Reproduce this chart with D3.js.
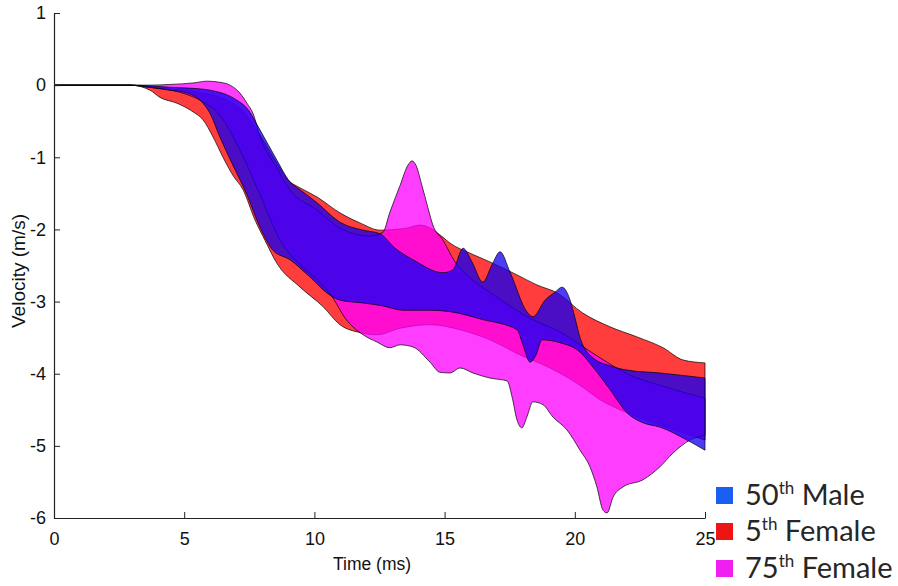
<!DOCTYPE html>
<html>
<head>
<meta charset="utf-8">
<script src="https://cdn.jsdelivr.net/npm/d3@7"></script>
<style>
  html, body { margin: 0; padding: 0; background: #fff; }
  svg { display: block; }
</style>
</head>
<body>
<svg id="chart" width="898" height="586"></svg>
<script>
// ---------------- DATA (time in ms, velocity in m/s) ----------------
const xTicks = [0, 5, 10, 15, 20, 25];
const yTicks = [1, 0, -1, -2, -3, -4, -5, -6];
const seriesNames = ["50th Male", "5th Female", "75th Female"];

// 50th Male corridor
const male50UpperT = [0, 1.0, 2.92, 3.69, 4.45, 5.11, 5.99, 7.03, 7.41, 7.91, 8.56, 9.06, 9.45, 10.10, 10.98, 11.87, 12.52, 13.10, 13.79, 14.94, 15.32, 15.71, 16.05, 16.47, 16.82, 17.13, 17.51, 18.16, 18.39, 18.86, 19.24, 19.51, 19.82, 20.01, 20.20, 20.70, 21.35, 22.00, 23.27, 25.0];
const male50UpperV = [0, 0, 0, -0.01, -0.03, -0.04, -0.07, -0.21, -0.32, -0.62, -1.04, -1.34, -1.45, -1.63, -1.90, -2.01, -2.06, -2.26, -2.42, -2.60, -2.56, -2.26, -2.45, -2.73, -2.49, -2.31, -2.59, -3.14, -3.21, -2.98, -2.87, -2.80, -2.98, -3.23, -3.50, -3.78, -3.89, -3.95, -3.99, -4.06];
const male50LowerT = [0, 1.0, 2.92, 3.69, 4.45, 5.11, 5.72, 5.99, 6.37, 6.87, 7.41, 7.91, 8.41, 9.06, 9.83, 10.48, 10.98, 11.87, 12.63, 13.40, 14.44, 15.21, 16.47, 17.78, 18.01, 18.28, 18.51, 18.74, 19.43, 20.20, 20.70, 21.35, 22.00, 22.62, 23.27, 24.31, 25.0];
const male50LowerV = [0, 0, 0, -0.03, -0.07, -0.11, -0.25, -0.39, -0.72, -1.11, -1.52, -1.97, -2.29, -2.42, -2.66, -2.88, -2.98, -3.02, -3.06, -3.12, -3.12, -3.14, -3.25, -3.39, -3.60, -3.84, -3.74, -3.53, -3.57, -3.70, -3.91, -4.22, -4.54, -4.68, -4.74, -4.92, -5.06];

// 5th Female corridor
const female5UpperT = [0, 1.0, 2.92, 3.69, 5.61, 7.14, 7.91, 8.56, 9.06, 9.33, 10.10, 10.98, 11.75, 12.52, 13.56, 14.06, 14.44, 14.94, 15.21, 15.98, 16.74, 17.78, 18.55, 19.32, 20.31, 21.35, 22.39, 23.39, 24.16, 25.0];
const female5UpperV = [0, 0, 0, -0.03, -0.10, -0.32, -0.69, -1.08, -1.34, -1.40, -1.55, -1.77, -1.91, -2.01, -1.98, -1.94, -1.98, -2.11, -2.19, -2.33, -2.45, -2.63, -2.77, -2.88, -3.16, -3.35, -3.49, -3.64, -3.81, -3.85];
const female5LowerT = [0, 1.0, 2.92, 3.69, 4.07, 4.72, 5.34, 5.72, 6.11, 6.49, 6.87, 7.26, 7.72, 8.10, 8.56, 9.45, 10.33, 10.98, 11.75, 12.40, 13.29, 14.44, 15.59, 16.74, 17.90, 19.05, 20.20, 20.97, 22.00, 23.27, 25.0];
const female5LowerV = [0, 0, 0, -0.07, -0.17, -0.25, -0.37, -0.48, -0.72, -1.00, -1.25, -1.45, -1.87, -2.15, -2.47, -2.80, -3.07, -3.32, -3.43, -3.46, -3.37, -3.32, -3.39, -3.53, -3.74, -3.92, -4.16, -4.36, -4.54, -4.71, -4.92];

// 75th Female corridor
const female75UpperT = [0, 1.0, 2.92, 3.69, 4.45, 5.34, 5.88, 6.37, 6.76, 7.14, 7.41, 7.64, 7.91, 8.56, 9.06, 10.10, 10.98, 12.14, 12.63, 12.90, 13.29, 13.59, 13.75, 13.90, 14.13, 14.36, 14.55, 14.94, 15.40, 15.98, 16.74, 18.28, 19.43, 20.97, 22.12, 23.27, 25.0];
const female75UpperV = [0, 0, 0, 0, 0.01, 0.03, 0.055, 0.04, 0, -0.11, -0.25, -0.39, -0.71, -1.15, -1.45, -1.73, -1.98, -2.09, -2.04, -1.76, -1.39, -1.11, -1.05, -1.11, -1.39, -1.70, -1.94, -2.15, -2.45, -2.67, -2.87, -3.23, -3.42, -3.78, -4.02, -4.16, -4.34];
const female75LowerT = [0, 1.0, 2.92, 3.69, 4.84, 5.61, 6.37, 7.14, 7.91, 8.68, 9.45, 10.22, 10.71, 11.18, 11.87, 12.40, 12.90, 13.29, 13.79, 14.44, 14.82, 15.21, 15.59, 16.09, 16.74, 17.40, 17.59, 17.78, 17.97, 18.16, 18.39, 18.78, 19.16, 19.70, 20.20, 20.58, 20.85, 21.08, 21.24, 21.47, 21.85, 22.62, 23.27, 23.77, 24.42, 25.0];
const female75LowerV = [0, 0, 0, -0.03, -0.10, -0.21, -0.42, -0.90, -1.52, -2.15, -2.49, -2.74, -2.95, -3.23, -3.46, -3.56, -3.64, -3.60, -3.63, -3.84, -3.98, -3.99, -3.92, -3.99, -4.06, -4.10, -4.32, -4.64, -4.75, -4.60, -4.39, -4.43, -4.60, -4.78, -5.06, -5.29, -5.57, -5.89, -5.93, -5.71, -5.57, -5.47, -5.29, -5.10, -4.92, -4.85];

// ---------------- CHART ----------------
const svg = d3.select("#chart");
const x = d3.scaleLinear().domain([0, 25]).range([54, 705]);
const y = d3.scaleLinear().domain([-6, 1]).range([518, 13]);

const zip = (ts, vs) => ts.map((t, i) => [t, vs[i]]);
const lineGen = d3.line().x(d => x(d[0])).y(d => y(d[1])).curve(d3.curveMonotoneX);

function bandPath(upT, upV, loT, loV) {
  const up = lineGen(zip(upT, upV));
  const lo = lineGen(zip(loT, loV).reverse());
  return up + "L" + lo.slice(1) + "Z";
}

const bands = [
  { name: "5th Female", color: "rgb(255,0,0)", d: bandPath(female5UpperT, female5UpperV, female5LowerT, female5LowerV) },
  { name: "75th Female", color: "rgb(255,0,255)", d: bandPath(female75UpperT, female75UpperV, female75LowerT, female75LowerV) },
  { name: "50th Male", color: "rgb(20,0,240)", d: bandPath(male50UpperT, male50UpperV, male50LowerT, male50LowerV) }
];

svg.append("g").selectAll("path").data(bands).join("path")
  .attr("d", d => d.d)
  .attr("fill", d => d.color)
  .attr("fill-opacity", 0.76)
  .attr("stroke", "#000")
  .attr("stroke-opacity", 0.7)
  .attr("stroke-width", 1)
  .attr("stroke-linejoin", "round");

// Axes
const axisFont = "'Liberation Sans', Arial, sans-serif";
const gx = svg.append("g").attr("transform", `translate(0,${y(-6)})`)
  .call(d3.axisBottom(x).tickValues(xTicks).tickFormat(d3.format("d")).tickSizeInner(-6).tickSizeOuter(0).tickPadding(14));
const gy = svg.append("g").attr("transform", `translate(${x(0)},0)`)
  .call(d3.axisLeft(y).tickValues(yTicks).tickFormat(d3.format("d")).tickSizeInner(-6).tickSizeOuter(0).tickPadding(8));

[gx, gy].forEach(g => {
  g.select(".domain").attr("stroke", "#222").attr("stroke-width", 1.2);
  g.selectAll(".tick line").attr("stroke", "#222");
  g.selectAll("text").attr("font-family", axisFont).attr("font-size", 18).attr("fill", "#111");
});
gy.selectAll(".tick text").text(d => d < 0 ? "-" + Math.abs(d) : d);

svg.append("text")
  .attr("x", 372).attr("y", 570)
  .attr("text-anchor", "middle")
  .attr("font-family", axisFont).attr("font-size", 17.5).attr("fill", "#111")
  .text("Time (ms)");

svg.append("text")
  .attr("transform", `translate(25,271) rotate(-90)`)
  .attr("text-anchor", "middle")
  .attr("font-family", axisFont).attr("font-size", 19).attr("fill", "#111")
  .text("Velocity (m/s)");

// Legend
const legendColors = ["#1a5ff0", "#ee1414", "#f01ef0"];
const legendNums = ["50", "5", "75"];
const legendRest = [" Male", " Female", " Female"];
const legendY = [495, 531, 568];
const lg = svg.append("g");
seriesNames.forEach((n, i) => {
  lg.append("rect")
    .attr("x", 716).attr("y", legendY[i] - 8).attr("width", 17).attr("height", 17)
    .attr("fill", legendColors[i]);
  const t = lg.append("text")
    .attr("x", 745).attr("y", legendY[i] + 10)
    .attr("font-family", "Lato, 'Open Sans', sans-serif").attr("font-size", 29).attr("fill", "#262626");
  t.append("tspan").text(legendNums[i]);
  t.append("tspan").attr("font-size", 17).attr("dy", -11).text("th");
  t.append("tspan").attr("dy", 11).text(legendRest[i]);
});
</script>
</body>
</html>
